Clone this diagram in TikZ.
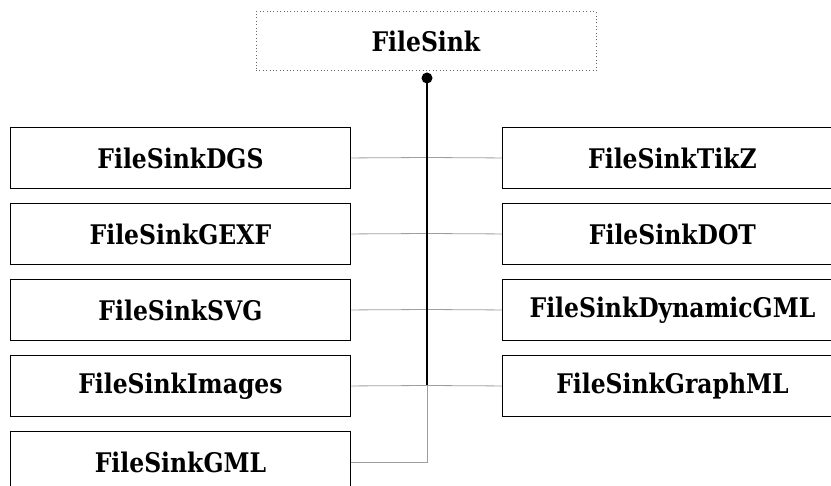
\documentclass[tikz,border=0pt]{standalone}
\usepackage{fontspec}
\setmainfont{DejaVu Serif}
\newcommand{\lbtext}[1]{\scalebox{0.87}[1]{#1}}
\begin{document}
\begin{tikzpicture}[x=1pt,y=-1pt,
  box/.style={draw=black,line width=0.9pt,minimum width=340pt,minimum height=61pt,inner sep=0pt,anchor=north west},
  lbl/.style={font=\fontsize{27}{30}\selectfont\bfseries,inner sep=0pt},
  conn/.style={draw=gray!75,line width=0.8pt},
  trunk/.style={draw=black,line width=1.3pt}]
\useasboundingbox (0,0) rectangle (831,486);
\node[draw=gray!80!black,dash pattern=on 0.8pt off 2.6pt,line width=0.8pt,minimum width=340pt,minimum height=59pt,anchor=north west,inner sep=0pt] (fs) at (255.5,11.5) {};
\node[lbl] at (fs.center) {\lbtext{FileSink}};
% left
\node[box] (dgs) at (10,127) {};
\node[box] (gexf) at (10,203) {};
\node[box] (svg) at (10,279) {};
\node[box] (img) at (10,355) {};
\node[box] (gml) at (10,431) {};
\node[lbl] at (dgs.center) {\lbtext{FileSinkDGS}};
\node[lbl] at (gexf.center) {\lbtext{FileSinkGEXF}};
\node[lbl] at (svg.center) {\lbtext{FileSinkSVG}};
\node[lbl] at (img.center) {\lbtext{FileSinkImages}};
\node[lbl] at (gml.center) {\lbtext{FileSinkGML}};
% right
\node[box] (tikz) at (502,127) {};
\node[box] (dot) at (502,203) {};
\node[box] (dyn) at (502,279) {};
\node[box] (gml2) at (502,355) {};
\node[lbl] at (tikz.center) {\lbtext{FileSinkTikZ}};
\node[lbl] at (dot.center) {\lbtext{FileSinkDOT}};
\node[lbl] at (dyn.center) {\lbtext{FileSinkDynamicGML}};
\node[lbl] at (gml2.center) {\lbtext{FileSinkGraphML}};
% trunk
\coordinate (top) at (427,78);
\coordinate (t1) at (427,157.5);
\coordinate (t2) at (427,233.5);
\coordinate (t3) at (427,309.5);
\coordinate (t4) at (427,385.5);
\draw[conn] (dgs.east) -- (t1) -- (tikz.west);
\draw[conn] (gexf.east) -- (t2) -- (dot.west);
\draw[conn] (svg.east) -- (t3) -- (dyn.west);
\draw[conn] (img.east) -- (t4) -- (gml2.west);
\draw[conn] (gml.east) -| (t4);
\draw[trunk] (top) -- (t4);
\fill (top) circle (5.5pt);
\end{tikzpicture}
\end{document}
